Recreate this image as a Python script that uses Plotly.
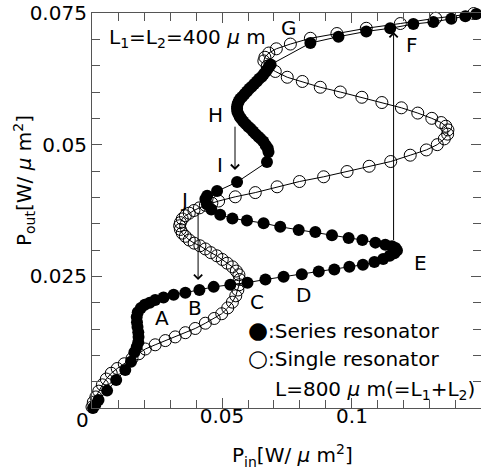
import plotly.graph_objects as go

# Series resonator (L1 = L2 = 400 um): input vs output intensity
series_pin = [
    0.0004, 0.0013, 0.0025, 0.0058, 0.0093, 0.0128, 0.0150,
    0.0163, 0.0172, 0.0178, 0.0179, 0.0178, 0.0175, 0.0173, 0.0172,
    0.0176, 0.0188, 0.0203, 0.0222, 0.0243,
    0.0275, 0.0314, 0.0359, 0.0413, 0.0468, 0.0532,
    0.0598, 0.0667, 0.0737, 0.0807, 0.0872, 0.0932, 0.0990, 0.1042,
    0.1086, 0.1120, 0.1145, 0.1163, 0.1173,
    0.1167, 0.1154, 0.1128, 0.1090, 0.1040, 0.0987, 0.0923, 0.0859,
    0.0795, 0.0724, 0.0660, 0.0596, 0.0540, 0.0493, 0.0459, 0.0442,
    0.0436, 0.0443, 0.0481, 0.0558, 0.0673,
    0.0679, 0.0676, 0.0668, 0.0659, 0.0649, 0.0640, 0.0630, 0.0620,
    0.0611, 0.0601, 0.0592, 0.0582, 0.0574, 0.0568, 0.0563, 0.0559,
    0.0558, 0.0558, 0.0560, 0.0564, 0.0570, 0.0578, 0.0587, 0.0596,
    0.0605, 0.0614, 0.0624, 0.0634, 0.0643, 0.0653, 0.0661, 0.0669,
    0.0676, 0.0682, 0.0687,
    0.0840, 0.0948, 0.1055, 0.1147, 0.1236, 0.1313, 0.1382, 0.1436, 0.1478,
]
series_pout = [
    0.0000, 0.0006, 0.0015, 0.0033, 0.0053, 0.0072, 0.0088,
    0.0106, 0.0116, 0.0125, 0.0135, 0.0144, 0.0154, 0.0163, 0.0173,
    0.0182, 0.0190, 0.0196, 0.0200, 0.0205,
    0.0210, 0.0215, 0.0219, 0.0224, 0.0230, 0.0234,
    0.0238, 0.0244, 0.0249, 0.0254, 0.0259, 0.0263, 0.0268, 0.0272,
    0.0277, 0.0283, 0.0289, 0.0294, 0.0299,
    0.0304, 0.0307, 0.0310, 0.0314, 0.0319, 0.0323, 0.0328, 0.0334,
    0.0338, 0.0344, 0.0351, 0.0356, 0.0360, 0.0367, 0.0377, 0.0387,
    0.0397, 0.0403, 0.0412, 0.0429, 0.0467,
    0.0486, 0.0493, 0.0499, 0.0506, 0.0511, 0.0515, 0.0520, 0.0525,
    0.0530, 0.0534, 0.0539, 0.0544, 0.0549, 0.0553, 0.0558, 0.0563,
    0.0568, 0.0572, 0.0577, 0.0582, 0.0587, 0.0591, 0.0596, 0.0601,
    0.0606, 0.0610, 0.0615, 0.0620, 0.0625, 0.0629, 0.0634, 0.0639,
    0.0644, 0.0649, 0.0652,
    0.0693, 0.0705, 0.0715, 0.0721, 0.0729, 0.0733, 0.0739, 0.0744, 0.0748,
]

# Single resonator (L = 800 um)
single_pin = [
    0.0000, 0.0005, 0.0015, 0.0026, 0.0040, 0.0055, 0.0074, 0.0097,
    0.0124, 0.0154, 0.0180, 0.0205, 0.0243, 0.0282, 0.0320, 0.0359,
    0.0397, 0.0436, 0.0470, 0.0499, 0.0522, 0.0540, 0.0553, 0.0561,
    0.0566, 0.0568, 0.0565, 0.0555, 0.0540, 0.0520, 0.0501, 0.0480,
    0.0457, 0.0436, 0.0415, 0.0393, 0.0374, 0.0359, 0.0347, 0.0340,
    0.0337, 0.0340, 0.0347, 0.0359, 0.0374, 0.0392, 0.0413, 0.0436,
    0.0461, 0.0487, 0.0551, 0.0628, 0.0712, 0.0798, 0.0891, 0.0981,
    0.1066, 0.1149, 0.1224, 0.1286, 0.1328, 0.1355, 0.1368, 0.1369,
    0.1361, 0.1343, 0.1307, 0.1253, 0.1190, 0.1115, 0.1038, 0.0955,
    0.0878, 0.0809, 0.0751, 0.0705, 0.0674, 0.0661, 0.0665, 0.0680,
    0.0709, 0.0763, 0.0840, 0.0942, 0.1055, 0.1186, 0.1322, 0.1468,
]
single_pout = [
    0.0002, 0.0011, 0.0021, 0.0032, 0.0044, 0.0055, 0.0066, 0.0075,
    0.0084, 0.0094, 0.0103, 0.0112, 0.0120, 0.0128, 0.0135, 0.0143,
    0.0151, 0.0161, 0.0170, 0.0179, 0.0190, 0.0201, 0.0213, 0.0224,
    0.0234, 0.0244, 0.0253, 0.0260, 0.0268, 0.0275, 0.0282, 0.0289,
    0.0295, 0.0302, 0.0308, 0.0313, 0.0319, 0.0326, 0.0332, 0.0339,
    0.0346, 0.0352, 0.0359, 0.0365, 0.0370, 0.0375, 0.0380, 0.0385,
    0.0389, 0.0393, 0.0401, 0.0409, 0.0420, 0.0430, 0.0439, 0.0449,
    0.0459, 0.0468, 0.0480, 0.0490, 0.0500, 0.0511, 0.0520, 0.0528,
    0.0535, 0.0542, 0.0550, 0.0560, 0.0570, 0.0580, 0.0590, 0.0600,
    0.0609, 0.0620, 0.0628, 0.0639, 0.0649, 0.0659, 0.0666, 0.0674,
    0.0682, 0.0691, 0.0702, 0.0711, 0.0721, 0.0730, 0.0740, 0.0749,
]

# Operating-point labels along the hysteresis loop
point_labels = ["A", "B", "C", "D", "E", "F", "G", "H", "I", "J"]
label_pin = [0.0269, 0.0397, 0.0635, 0.0814, 0.1263, 0.1231, 0.0756, 0.0474, 0.0493, 0.0352]
label_pout = [0.0170, 0.0189, 0.0202, 0.0215, 0.0275, 0.0689, 0.0721, 0.0556, 0.0461, 0.0395]

# Switching jumps: (P_in, start P_out, end P_out)
jumps = [
    (0.0550, 0.0537, 0.0452),  # H -> I
    (0.0408, 0.0374, 0.0243),  # J -> B
    (0.1160, 0.0316, 0.0714),  # E -> F
]

FONT = "DejaVu Sans, Verdana, sans-serif"
FS = 20
MU = "<i>\u03bc</i>"
AXIS_GRAY = "#555555"

fig = go.Figure()

fig.add_trace(go.Scatter(
    x=series_pin, y=series_pout, mode="lines+markers", cliponaxis=False,
    line=dict(color="black", width=1),
    marker=dict(symbol="circle", size=12, color="black", line=dict(width=0)),
    showlegend=False, hoverinfo="skip",
))
fig.add_trace(go.Scatter(
    x=single_pin, y=single_pout, mode="lines+markers", cliponaxis=False,
    line=dict(color="black", width=1),
    marker=dict(symbol="circle-open", size=12, color="black", line=dict(width=1)),
    showlegend=False, hoverinfo="skip",
))

txt_font = dict(size=FS, color="black", family=FONT)
annotations = []
for lab, xv, yv in zip(point_labels, label_pin, label_pout):
    annotations.append(dict(x=xv, y=yv, xref="x", yref="y", text=lab, showarrow=False,
                            xanchor="center", yanchor="middle", font=txt_font))

for xv, y0, y1 in jumps:
    annotations.append(dict(x=xv, y=y1, ax=xv, ay=y0, xref="x", yref="y", axref="x", ayref="y",
                            text="", showarrow=True, arrowhead=4, arrowsize=1.6, arrowwidth=1,
                            arrowcolor="black", standoff=0, startstandoff=0))

text_items = [
    (0.0059, 0.0703, "L<sub>1</sub>=L<sub>2</sub>=400 " + MU + " m"),
    (0.0594, 0.0148, "<span style='font-size:23px'>\u25cf</span>:Series resonator"),
    (0.0594, 0.0095, "<span style='font-size:23px'>\u25cb</span>:Single resonator"),
    (0.0697, 0.0034, "L=800 " + MU + " m(=L<sub>1</sub>+L<sub>2</sub>)"),
]
for xv, yv, txt in text_items:
    annotations.append(dict(x=xv, y=yv, xref="x", yref="y", text=txt, showarrow=False,
                            xanchor="left", yanchor="middle", font=txt_font))

# shared origin label and axis titles (paper coordinates, outside the plotting area)
annotations.append(dict(x=-0.0257, y=-0.0304, xref="paper", yref="paper", text="0",
                        showarrow=False, xanchor="center", yanchor="middle", font=txt_font))
annotations.append(dict(x=0.515, y=-0.119, xref="paper", yref="paper", showarrow=False,
                        xanchor="center", yanchor="middle",
                        text="P<sub>in</sub>[W/ " + MU + " m<sup>2</sup>]", font=txt_font))
annotations.append(dict(x=-0.175, y=0.577, xref="paper", yref="paper", showarrow=False,
                        textangle=-90, xanchor="center", yanchor="middle",
                        text="P<sub>out</sub>[W/ " + MU + " m<sup>2</sup>]", font=txt_font))

axis_common = dict(
    showline=True, linecolor=AXIS_GRAY, linewidth=1.2, mirror="allticks",
    ticks="inside", ticklen=10, tickwidth=1, tickcolor=AXIS_GRAY,
    showgrid=False, zeroline=False,
    tickfont=dict(size=FS, color="black", family=FONT),
)

fig.update_xaxes(
    range=[0, 0.14962], tickvals=[0.05, 0.1], ticktext=["0.05", "0.1"],
    ticklabelstandoff=-10,
    minor=dict(dtick=0.01, tick0=0, ticks="inside", ticklen=8, tickwidth=1, tickcolor=AXIS_GRAY),
    **axis_common,
)
fig.update_yaxes(
    range=[0, 0.075], tickvals=[0.025, 0.05, 0.075], ticktext=["0.025", "0.05", "0.075"],
    minor=dict(dtick=0.005, tick0=0, ticks="inside", ticklen=8, tickwidth=1, tickcolor=AXIS_GRAY),
    **axis_common,
)

fig.update_layout(
    width=481, height=476,
    margin=dict(l=92, r=0, t=13, b=68),
    paper_bgcolor="white", plot_bgcolor="white",
    annotations=annotations,
    font=dict(family=FONT, color="black"),
)

fig.write_html("out.html")
